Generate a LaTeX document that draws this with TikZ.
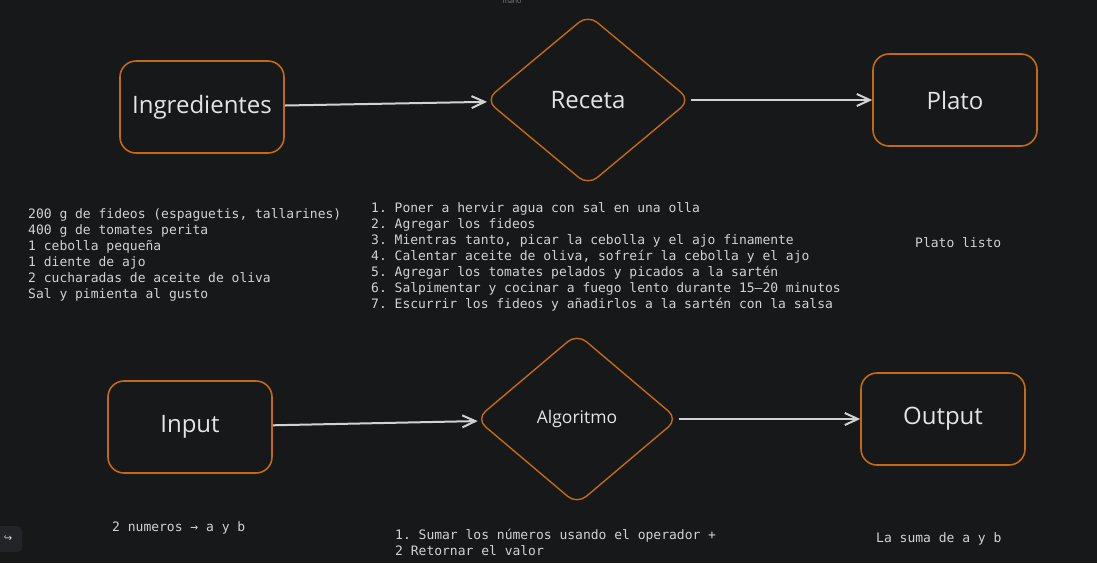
\documentclass[tikz,border=0pt]{standalone}
\usepackage{fontspec}
\setmainfont{Open Sans}
\setmonofont{DejaVu Sans Mono}
\newfontfamily\simbolos{DejaVu Sans}
\usepackage{tikz}
\usetikzlibrary{shapes.geometric}
\usetikzlibrary{arrows.meta}
\usetikzlibrary{positioning}
\usepackage{xcolor}
\definecolor{fondo}{HTML}{17181A}
\definecolor{naranja}{HTML}{C46A12}
\definecolor{tinta}{HTML}{E4E4E4}
\definecolor{gris}{HTML}{D2D2D2}
\definecolor{botonfondo}{HTML}{232428}
\tikzset{x=1pt, y=-1pt, every text node part/.style={align=center}}
\tikzstyle{caja} = [draw=naranja, line width=1.6pt, rounded corners=16pt, minimum width=164pt, minimum height=92pt, text=tinta, font={\fontsize{24}{28}\selectfont}]
\tikzstyle{rombo} = [diamond, draw=naranja, line width=1.4pt, rounded corners=12pt, inner sep=0pt, minimum width=205pt, minimum height=171pt, text=tinta, font={\fontsize{24}{28}\selectfont}]
\tikzstyle{ln} = [draw=gris, line width=2pt, -{Straight Barb[length=13pt,width=12pt]}]
\tikzstyle{nota} = [inner sep=0pt, anchor=base west, text=gris, every text node part/.append style={align=left, font={\ttfamily\fontsize{13}{16}\selectfont}}]

\begin{document}
\begin{tikzpicture}
  \fill[fondo] (0,0) rectangle (1097,563);
  \path[use as bounding box] (0,0) rectangle (1097,563);
  % receta
  \node[caja] (ingredientes) at (202,107) {Ingredientes};
  \node[rombo] (receta) at (588,100) {Receta};
  \node[caja] (plato) at (955,100) {Plato};
  \node[nota] (listaing) at (28,298) {200 g de fideos (espaguetis, tallarines)\\400 g de tomates perita\\1 cebolla pequeña\\1 diente de ajo\\2 cucharadas de aceite de oliva\\Sal y pimienta al gusto};
  \node[nota] (pasos) at (371,308) {1. Poner a hervir agua con sal en una olla\\2. Agregar los fideos\\3. Mientras tanto, picar la cebolla y el ajo finamente\\4. Calentar aceite de oliva, sofreír la cebolla y el ajo\\5. Agregar los tomates pelados y picados a la sartén\\6. Salpimentar y cocinar a fuego lento durante 15–20 minutos\\7. Escurrir los fideos y añadirlos a la sartén con la salsa};
  \node[nota] (listo) at (915,247) {Plato listo};
  % algoritmo
  \node[caja] (input) at (190,427) {Input};
  \node[rombo, minimum width=202pt, font={\fontsize{17.5}{21}\selectfont}] (algoritmo) at (577,419) {Algoritmo};
  \node[caja] (output) at (943,419) {Output};
  \node[nota] (numeros) at (112,531) {2 numeros → a y b};
  \node[nota] (sumar) at (395,555) {1. Sumar los números usando el operador +\\2 Retornar el valor};
  \node[nota] (resultado) at (876,542) {La suma de a y b};
  % extras de la pantalla
  \node[font={\fontsize{7}{8}\selectfont}, text=gray] (mano) at (512,2) {mano};
  \node[fill=botonfondo, rounded corners=5pt, minimum width=28pt, minimum height=26pt, text=gris, font={\simbolos\fontsize{10}{12}\selectfont}] (deshacer) at (8,539) {↪};
  \path[ln]
    (ingredientes) edge (receta)
    (receta) edge (plato)
    (input) edge (algoritmo)
    (algoritmo) edge (output);
\end{tikzpicture}
\end{document}
